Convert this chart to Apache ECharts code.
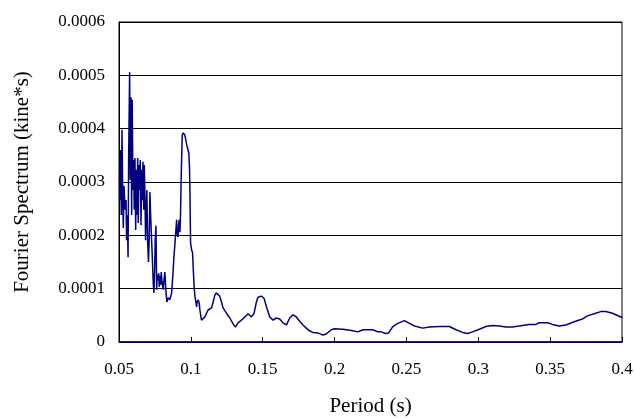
<!DOCTYPE html>
<html>
<head>
<meta charset="utf-8">
<script src="https://cdn.jsdelivr.net/npm/echarts@6/dist/echarts.min.js"></script>
<style>
  html, body { margin: 0; padding: 0; background: #fff; }
  #chart { width: 635px; height: 418px; }
</style>
</head>
<body>
<div id="chart"></div>
<script>
// period (s) and Fourier amplitude (kine*s)
var periods = [
  0.0507, 0.0512, 0.0516, 0.0521, 0.0526, 0.0530, 0.0535, 0.0542, 0.0549, 0.0553,
  0.0558, 0.0563, 0.0567, 0.0574, 0.0578, 0.0583, 0.0588, 0.0592, 0.0597, 0.0602,
  0.0606, 0.0611, 0.0616, 0.0620, 0.0625, 0.0630, 0.0634, 0.0639, 0.0644, 0.0648,
  0.0653, 0.0658, 0.0662, 0.0667, 0.0672, 0.0676, 0.0681, 0.0685, 0.0690, 0.0694,
  0.0699, 0.0705, 0.0710, 0.0715, 0.0720, 0.0727, 0.0733, 0.0738, 0.0743, 0.0748,
  0.0752, 0.0757, 0.0762, 0.0766, 0.0771, 0.0776, 0.0780, 0.0785, 0.0790, 0.0794,
  0.0799, 0.0808, 0.0813, 0.0819, 0.0826, 0.0833, 0.0842, 0.0854, 0.0866, 0.0875,
  0.0882, 0.0891, 0.0901, 0.0905, 0.0910, 0.0915, 0.0919, 0.0924, 0.0928, 0.0933,
  0.0940, 0.0947, 0.0958, 0.0965, 0.0972, 0.0981, 0.0986, 0.0991, 0.0993, 0.0998,
  0.1005, 0.1012, 0.1017, 0.1023, 0.1028, 0.1035, 0.1040, 0.1044, 0.1051, 0.1058,
  0.1063, 0.1069, 0.1074, 0.1083, 0.1097, 0.1109, 0.1120, 0.1132, 0.1144, 0.1155,
  0.1167, 0.1178, 0.1190, 0.1201, 0.1213, 0.1224, 0.1248, 0.1271, 0.1294, 0.1310,
  0.1328, 0.1352, 0.1375, 0.1398, 0.1422, 0.1440, 0.1456, 0.1467, 0.1491, 0.1509,
  0.1526, 0.1549, 0.1572, 0.1595, 0.1618, 0.1641, 0.1665, 0.1688, 0.1710, 0.1734,
  0.1757, 0.1780, 0.1803, 0.1826, 0.1849, 0.1884, 0.1919, 0.1942, 0.1977, 0.2000,
  0.2058, 0.2081, 0.2127, 0.2162, 0.2197, 0.2266, 0.2301, 0.2324, 0.2354, 0.2377,
  0.2405, 0.2440, 0.2486, 0.2521, 0.2556, 0.2613, 0.2660, 0.2729, 0.2799, 0.2845,
  0.2891, 0.2926, 0.2960, 0.3007, 0.3053, 0.3099, 0.3146, 0.3192, 0.3238, 0.3285,
  0.3354, 0.3401, 0.3424, 0.3481, 0.3516, 0.3563, 0.3609, 0.3667, 0.3724, 0.3759,
  0.3806, 0.3852, 0.3887, 0.3933, 0.4000
];
var spectrum = [
  2.66e-4, 3.60e-4, 2.38e-4, 3.98e-4, 2.66e-4, 2.14e-4, 2.93e-4, 2.48e-4, 2.66e-4, 1.91e-4,
  2.38e-4, 1.59e-4, 3.41e-4, 5.06e-4, 3.04e-4, 4.59e-4, 2.38e-4, 4.54e-4, 2.85e-4, 3.41e-4,
  2.48e-4, 3.45e-4, 2.10e-4, 3.23e-4, 2.38e-4, 3.45e-4, 2.23e-4, 3.32e-4, 2.85e-4, 3.41e-4,
  2.19e-4, 3.23e-4, 2.66e-4, 3.38e-4, 2.48e-4, 3.32e-4, 2.66e-4, 1.91e-4, 2.48e-4, 2.85e-4,
  1.91e-4, 1.50e-4, 1.91e-4, 2.81e-4, 2.38e-4, 1.91e-4, 1.50e-4, 1.11e-4, 0.92e-4, 1.35e-4,
  1.91e-4, 2.18e-4, 0.98e-4, 1.26e-4, 1.16e-4, 1.29e-4, 1.03e-4, 1.24e-4, 1.07e-4, 1.31e-4,
  1.13e-4, 0.98e-4, 1.16e-4, 1.31e-4, 0.98e-4, 0.75e-4, 0.83e-4, 0.79e-4, 0.92e-4, 1.26e-4,
  1.59e-4, 1.91e-4, 2.29e-4, 2.01e-4, 1.97e-4, 2.19e-4, 2.29e-4, 2.06e-4, 2.38e-4, 3.13e-4,
  3.88e-4, 3.92e-4, 3.88e-4, 3.79e-4, 3.69e-4, 3.66e-4, 3.54e-4, 3.23e-4, 2.91e-4, 1.86e-4,
  1.73e-4, 1.67e-4, 1.35e-4, 1.03e-4, 0.86e-4, 0.75e-4, 0.66e-4, 0.75e-4, 0.79e-4, 0.73e-4,
  0.60e-4, 0.49e-4, 0.41e-4, 0.39e-4, 0.47e-4, 0.54e-4, 0.60e-4, 0.62e-4, 0.64e-4, 0.75e-4,
  0.88e-4, 0.92e-4, 0.90e-4, 0.86e-4, 0.75e-4, 0.64e-4, 0.54e-4, 0.45e-4, 0.34e-4, 0.28e-4,
  0.36e-4, 0.41e-4, 0.47e-4, 0.53e-4, 0.47e-4, 0.54e-4, 0.75e-4, 0.84e-4, 0.86e-4, 0.82e-4,
  0.66e-4, 0.47e-4, 0.41e-4, 0.45e-4, 0.43e-4, 0.36e-4, 0.32e-4, 0.45e-4, 0.51e-4, 0.47e-4,
  0.39e-4, 0.32e-4, 0.26e-4, 0.21e-4, 0.18e-4, 0.17e-4, 0.13e-4, 0.15e-4, 0.23e-4, 0.25e-4,
  0.24e-4, 0.23e-4, 0.21e-4, 0.19e-4, 0.23e-4, 0.23e-4, 0.19e-4, 0.19e-4, 0.16e-4, 0.17e-4,
  0.29e-4, 0.35e-4, 0.40e-4, 0.35e-4, 0.30e-4, 0.26e-4, 0.28e-4, 0.29e-4, 0.29e-4, 0.23e-4,
  0.18e-4, 0.16e-4, 0.19e-4, 0.24e-4, 0.29e-4, 0.31e-4, 0.30e-4, 0.28e-4, 0.28e-4, 0.30e-4,
  0.33e-4, 0.33e-4, 0.36e-4, 0.36e-4, 0.33e-4, 0.30e-4, 0.32e-4, 0.38e-4, 0.43e-4, 0.49e-4,
  0.53e-4, 0.57e-4, 0.57e-4, 0.54e-4, 0.46e-4
];

var seriesData = periods.map(function(p, i) { return [p, spectrum[i]]; });

var font = '"Liberation Serif", "Times New Roman", serif';

var option = {
  animation: false,
  backgroundColor: '#fff',
  grid: {
    left: 119, right: 13, top: 22, bottom: 76,
    outerBoundsMode: 'none',
    containLabel: false,
    show: true,
    borderColor: '#000',
    borderWidth: 1
  },
  xAxis: {
    type: 'value',
    min: 0.05, max: 0.4, interval: 0.05,
    name: 'Period (s)',
    nameLocation: 'middle',
    nameGap: 54,
    nameTextStyle: { fontFamily: font, fontSize: 21, color: '#000' },
    axisLine: { lineStyle: { color: '#000080', width: 1.5 } },
    axisTick: { inside: true, length: 5, lineStyle: { color: '#000' } },
    axisLabel: {
      margin: 19, fontFamily: font, fontSize: 17, color: '#000',
      formatter: function(v) { return String(parseFloat(v.toFixed(2))); }
    },
    splitLine: { show: false }
  },
  yAxis: {
    type: 'value',
    min: 0, max: 0.0006, interval: 0.0001,
    name: 'Fourier Spectrum (kine*s)',
    nameLocation: 'middle',
    nameGap: 86,
    nameTextStyle: { fontFamily: font, fontSize: 21, color: '#000' },
    axisLine: { show: true, lineStyle: { color: '#000', width: 1 } },
    axisTick: { show: true, inside: true, length: 5, lineStyle: { color: '#000' } },
    axisLabel: {
      margin: 14, fontFamily: font, fontSize: 17, color: '#000',
      formatter: function(v) { return v === 0 ? '0' : v.toFixed(4); }
    },
    splitLine: { show: true, lineStyle: { color: '#000', width: 1 } }
  },
  series: [{
    type: 'line',
    data: seriesData,
    showSymbol: false,
    symbol: 'none',
    lineStyle: { color: '#000080', width: 1.5 },
    z: 3
  }]
};

var chart = echarts.init(document.getElementById('chart'));
chart.setOption(option);
</script>
</body>
</html>
